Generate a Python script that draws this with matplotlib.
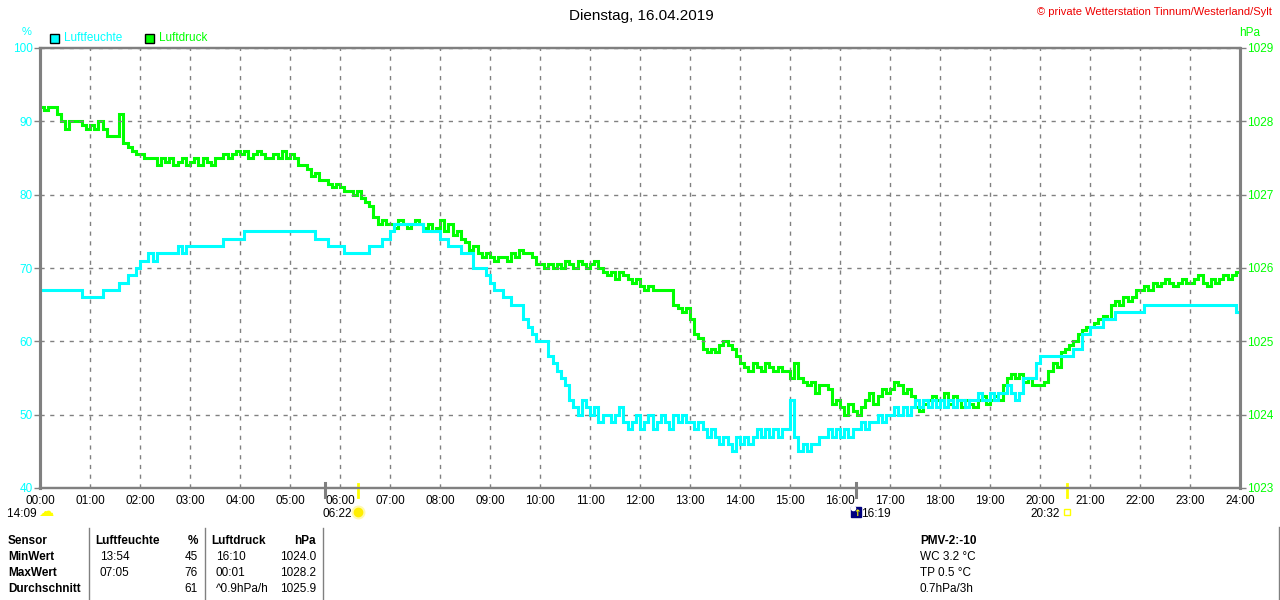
import matplotlib
matplotlib.use("Agg")
import matplotlib.pyplot as plt
import matplotlib.transforms as mtransforms
import numpy as np

# --- Daten: 5-Minuten-Werte, eine Zeile pro Stunde ---
luftfeuchte = [
    67, 67, 67, 67, 67, 67, 67, 67, 67, 67, 66, 66,   # 00
    66, 66, 66, 67, 67, 67, 67, 68, 68, 69, 69, 70,   # 01
    71, 71, 72, 71, 72, 72, 72, 72, 72, 73, 72, 73,   # 02
    73, 73, 73, 73, 73, 73, 73, 73, 74, 74, 74, 74,   # 03
    74, 75, 75, 75, 75, 75, 75, 75, 75, 75, 75, 75,   # 04
    75, 75, 75, 75, 75, 75, 74, 74, 74, 73, 73, 73,   # 05
    73, 72, 72, 72, 72, 72, 72, 73, 73, 73, 74, 74,   # 06
    75, 76, 76, 76, 76, 76, 76, 76, 75, 75, 75, 75,   # 07
    74, 74, 73, 73, 73, 72, 72, 72, 70, 70, 70, 69,   # 08
    68, 67, 67, 66, 66, 65, 65, 65, 63, 62, 61, 60,   # 09
    60, 60, 58, 57, 56, 55, 54, 52, 51, 50, 52, 51,   # 10
    50, 51, 49, 50, 50, 49, 50, 51, 49, 48, 49, 50,   # 11
    48, 49, 50, 48, 49, 50, 49, 48, 50, 49, 50, 49,   # 12
    49, 48, 49, 48, 47, 48, 47, 46, 47, 46, 45, 47,   # 13
    46, 47, 46, 47, 48, 47, 48, 47, 48, 47, 48, 48,   # 14
    52, 47, 45, 46, 45, 46, 46, 47, 47, 48, 47, 48,   # 15
    47, 48, 47, 48, 48, 49, 48, 49, 49, 50, 49, 50,   # 16
    50, 51, 50, 51, 50, 51, 52, 51, 52, 51, 52, 51,   # 17
    52, 51, 52, 51, 52, 52, 51, 52, 52, 53, 52, 52,   # 18
    53, 52, 53, 53, 54, 53, 52, 53, 55, 55, 55, 57,   # 19
    58, 58, 58, 58, 58, 58, 58, 58, 59, 59, 61, 61,   # 20
    62, 62, 62, 63, 63, 63, 64, 64, 64, 64, 64, 64,   # 21
    64, 65, 65, 65, 65, 65, 65, 65, 65, 65, 65, 65,   # 22
    65, 65, 65, 65, 65, 65, 65, 65, 65, 65, 65, 64,   # 23
    64,
]

luftdruck = [
    1028.2, 1028.15, 1028.2, 1028.2, 1028.1, 1028.0, 1027.9, 1028.0, 1028.0, 1028.0, 1027.95, 1027.9,      # 00
    1027.95, 1027.9, 1028.0, 1027.9, 1027.8, 1027.8, 1027.8, 1028.1, 1027.7, 1027.65, 1027.6, 1027.55,     # 01
    1027.55, 1027.5, 1027.5, 1027.5, 1027.4, 1027.5, 1027.45, 1027.5, 1027.4, 1027.45, 1027.5, 1027.4,     # 02
    1027.45, 1027.5, 1027.4, 1027.5, 1027.45, 1027.4, 1027.5, 1027.5, 1027.55, 1027.5, 1027.55, 1027.6,    # 03
    1027.55, 1027.6, 1027.5, 1027.55, 1027.6, 1027.55, 1027.5, 1027.5, 1027.55, 1027.5, 1027.6, 1027.5,    # 04
    1027.55, 1027.5, 1027.4, 1027.4, 1027.35, 1027.25, 1027.3, 1027.2, 1027.2, 1027.15, 1027.1, 1027.15,   # 05
    1027.1, 1027.05, 1027.05, 1027.0, 1027.05, 1026.95, 1026.9, 1026.85, 1026.7, 1026.6, 1026.65, 1026.6,  # 06
    1026.6, 1026.55, 1026.65, 1026.6, 1026.55, 1026.6, 1026.65, 1026.6, 1026.55, 1026.6, 1026.5, 1026.55,  # 07
    1026.65, 1026.5, 1026.6, 1026.45, 1026.5, 1026.4, 1026.35, 1026.25, 1026.3, 1026.2, 1026.15, 1026.2,   # 08
    1026.15, 1026.1, 1026.15, 1026.15, 1026.1, 1026.2, 1026.15, 1026.25, 1026.2, 1026.2, 1026.15, 1026.05, # 09
    1026.05, 1026.0, 1026.05, 1026.0, 1026.05, 1026.0, 1026.1, 1026.05, 1026.0, 1026.1, 1026.05, 1026.0,   # 10
    1026.05, 1026.1, 1026.0, 1025.95, 1025.9, 1025.95, 1025.85, 1025.95, 1025.9, 1025.85, 1025.8, 1025.85, # 11
    1025.75, 1025.7, 1025.75, 1025.7, 1025.7, 1025.7, 1025.7, 1025.7, 1025.5, 1025.45, 1025.4, 1025.45,    # 12
    1025.3, 1025.1, 1025.05, 1024.9, 1024.85, 1024.9, 1024.85, 1024.95, 1025.0, 1024.95, 1024.9, 1024.8,   # 13
    1024.7, 1024.65, 1024.6, 1024.7, 1024.65, 1024.6, 1024.7, 1024.65, 1024.6, 1024.65, 1024.6, 1024.6,    # 14
    1024.5, 1024.7, 1024.5, 1024.45, 1024.4, 1024.45, 1024.3, 1024.4, 1024.4, 1024.35, 1024.15, 1024.2,    # 15
    1024.1, 1024.0, 1024.15, 1024.05, 1024.0, 1024.1, 1024.2, 1024.3, 1024.15, 1024.25, 1024.35, 1024.3,   # 16
    1024.35, 1024.45, 1024.4, 1024.3, 1024.35, 1024.25, 1024.1, 1024.05, 1024.15, 1024.2, 1024.25, 1024.2, # 17
    1024.2, 1024.3, 1024.15, 1024.25, 1024.2, 1024.1, 1024.2, 1024.15, 1024.1, 1024.2, 1024.25, 1024.15,   # 18
    1024.2, 1024.25, 1024.2, 1024.4, 1024.5, 1024.55, 1024.5, 1024.55, 1024.45, 1024.5, 1024.4, 1024.4,    # 19
    1024.4, 1024.45, 1024.6, 1024.7, 1024.65, 1024.85, 1024.9, 1024.95, 1025.0, 1025.1, 1025.15, 1025.2,   # 20
    1025.2, 1025.25, 1025.3, 1025.35, 1025.3, 1025.5, 1025.55, 1025.5, 1025.6, 1025.55, 1025.6, 1025.7,    # 21
    1025.7, 1025.75, 1025.7, 1025.8, 1025.75, 1025.8, 1025.85, 1025.8, 1025.75, 1025.8, 1025.85, 1025.8,   # 22
    1025.8, 1025.85, 1025.9, 1025.8, 1025.75, 1025.85, 1025.8, 1025.85, 1025.9, 1025.85, 1025.9, 1025.95,  # 23
    1026.0,
]

stunden = np.arange(len(luftfeuchte)) / 12.0

hf_ticks = [40, 50, 60, 70, 80, 90, 100]
ld_ticks = [1023, 1024, 1025, 1026, 1027, 1028, 1029]
x_labels = [f"{h:02d}:00" for h in range(25)]

# Ereignisse unter der Zeitachse (Stunde, Beschriftung)
mond_auf = (0.0, "14:09")
sonne_auf = (6.367, "06:22")
mond_unter = (16.317, "16:19")
sonne_unter = (20.533, "20:32")
grau_marken = [5.70, 16.33]

tabelle = [
    ["Sensor", "Luftfeuchte", "%", "Luftdruck", "hPa"],
    ["MinWert", "13:54", "45", "16:10", "1024.0"],
    ["MaxWert", "07:05", "76", "00:01", "1028.2"],
    ["Durchschnitt", "", "61", "^0.9hPa/h", "1025.9"],
]
pmv = ["PMV-2:-10", "WC 3.2 °C", "TP 0.5 °C", "0.7hPa/3h"]

CYAN = "#00ffff"
GREEN = "#00ff00"
GRAY = "#808080"
YELLOW = "#ffff00"

plt.rcParams["font.family"] = ["Liberation Sans", "DejaVu Sans"]

W, H = 1280, 600
fig = plt.figure(figsize=(W / 100, H / 100), dpi=100, facecolor="white")


def px(x, y):
    return x / W, 1 - y / H


ax = fig.add_axes([40 / W, 1 - 488 / H, 1200 / W, 440 / H])
ax2 = ax.twinx()
ax.set_zorder(ax2.get_zorder() + 1)
ax.patch.set_visible(False)

ax2.plot(stunden, luftdruck, color=GREEN, linewidth=2.2, drawstyle="steps-post",
         solid_joinstyle="miter")
ax.plot(stunden, luftfeuchte, color=CYAN, linewidth=2.2, drawstyle="steps-post",
        solid_joinstyle="miter")

ax.set_xlim(0, 24)
ax.set_ylim(40, 100)
ax2.set_ylim(1023, 1029)
ax.set_xticks(range(25))
ax.set_xticklabels(x_labels, fontsize=8.5)
ax.set_yticks(hf_ticks)
ax2.set_yticks(ld_ticks)
ax.tick_params(axis="x", length=0, pad=5, colors="black")
ax.tick_params(axis="y", length=4, width=1, color=GRAY, labelcolor=CYAN, labelsize=8.5, pad=1)
ax2.tick_params(axis="y", length=4, width=1, color=GRAY, labelcolor=GREEN, labelsize=8.5, pad=1)
ax.grid(True, color=GRAY, linestyle=(0, (3, 4)), linewidth=1)

for a in (ax, ax2):
    for side, sp in a.spines.items():
        sp.set_color(GRAY)
        sp.set_linewidth(2.2 if side in ("left", "right") else 1.6)

# Marken unter der Achse
trans = mtransforms.blended_transform_factory(ax.transData, fig.transFigure)
for t in grau_marken:
    ax.plot([t, t], [1 - 483 / H, 1 - 497 / H], color=GRAY, linewidth=2.2,
            transform=trans, clip_on=False)
for t in (sonne_auf[0], sonne_unter[0]):
    ax.plot([t, t], [1 - 484 / H, 1 - 497 / H], color=YELLOW, linewidth=2.0,
            transform=trans, clip_on=False)

ylab = 1 - 514 / H
ikon_y = 1 - 512 / H
# Mondaufgang (kleine gelbe Wolke am Tagesanfang)
ax.text(mond_auf[0], ylab, mond_auf[1] + " ", transform=trans, ha="right", va="center",
        fontsize=8.5)
ax.text(mond_auf[0] + 0.11, ikon_y, "☁", transform=trans, ha="center", va="center",
        fontsize=11, color=YELLOW, family="DejaVu Sans")
# Sonnenaufgang
ax.text(sonne_auf[0] - 0.12, ylab, sonne_auf[1], transform=trans, ha="right", va="center",
        fontsize=8.5)
ax.plot([sonne_auf[0]], [ikon_y], marker="o", markersize=9, markerfacecolor="#fff9b0",
        markeredgecolor="#fff9b0", transform=trans, clip_on=False)
ax.plot([sonne_auf[0]], [ikon_y], marker="o", markersize=6, color="#ffee00",
        transform=trans, clip_on=False)
# Monduntergang
ax.plot([mond_unter[0]], [ikon_y], marker="s", markersize=6.5, color="#000080",
        transform=trans, clip_on=False)
ax.plot([mond_unter[0] - 0.05], [ikon_y + 0.007], marker="o", markersize=3, color="white",
        transform=trans, clip_on=False)
ax.text(mond_unter[0] + 0.02, ikon_y - 0.002, "↑", transform=trans, ha="center", va="center",
        fontsize=6.5, color=YELLOW, fontweight="bold", family="DejaVu Sans")
ax.text(mond_unter[0] + 0.1, ylab, mond_unter[1], transform=trans, ha="left", va="center",
        fontsize=8.5)
# Sonnenuntergang
ax.plot([sonne_unter[0]], [ikon_y], marker="s", markersize=4, markerfacecolor="none",
        markeredgecolor=YELLOW, markeredgewidth=1, transform=trans, clip_on=False)
ax.text(sonne_unter[0] - 0.14, ylab, sonne_unter[1], transform=trans, ha="right", va="center",
        fontsize=8.5)

# Kopfzeile
fig.text(*px(641, 16), "Dienstag, 16.04.2019", ha="center", va="center", fontsize=11)
fig.text(*px(1272, 12), "© private Wetterstation Tinnum/Westerland/Sylt", ha="right",
         va="center", fontsize=8, color="#ee0000")
fig.text(*px(27, 32), "%", ha="center", va="center", fontsize=8, color=CYAN)
fig.text(*px(1250, 33), "hPa", ha="center", va="center", fontsize=8.5, color=GREEN)

# Legende
for lx, farbe, name in [(50, CYAN, "Luftfeuchte"), (145, GREEN, "Luftdruck")]:
    fig.patches.append(plt.Rectangle(px(lx, 43), 9 / W, 9 / H, transform=fig.transFigure,
                                     facecolor=farbe, edgecolor="black", linewidth=1))
    fig.text(*px(lx + 14, 38), name, ha="left", va="center", fontsize=8.5, color=farbe)

# Tabelle
zeilen_y = [541, 557, 573, 589]
spalten = [(8, "left", True), (100, "left", False), (198, "right", False),
           (216, "left", False), (316, "right", False)]
for r, zeile in enumerate(tabelle):
    for c, wert in enumerate(zeile):
        x, ha, fett = spalten[c]
        if r == 0:
            fett = True
            if c in (1, 3):
                x -= 5
        fig.text(*px(x, zeilen_y[r]), wert, ha=ha, va="center", fontsize=8.5,
                 fontweight="bold" if fett else "normal")

for i, zeile in enumerate(pmv):
    fig.text(*px(920, zeilen_y[i]), zeile, ha="left", va="center", fontsize=8.5,
             fontweight="bold" if i == 0 else "normal")

for sx, y0 in [(89, 528), (205, 528), (323, 528), (1279, 527)]:
    fig.add_artist(plt.Line2D([sx / W, sx / W], [1 - y0 / H, 0], color=GRAY, linewidth=1,
                              transform=fig.transFigure))

fig.savefig("out.png", dpi=100, facecolor="white")
